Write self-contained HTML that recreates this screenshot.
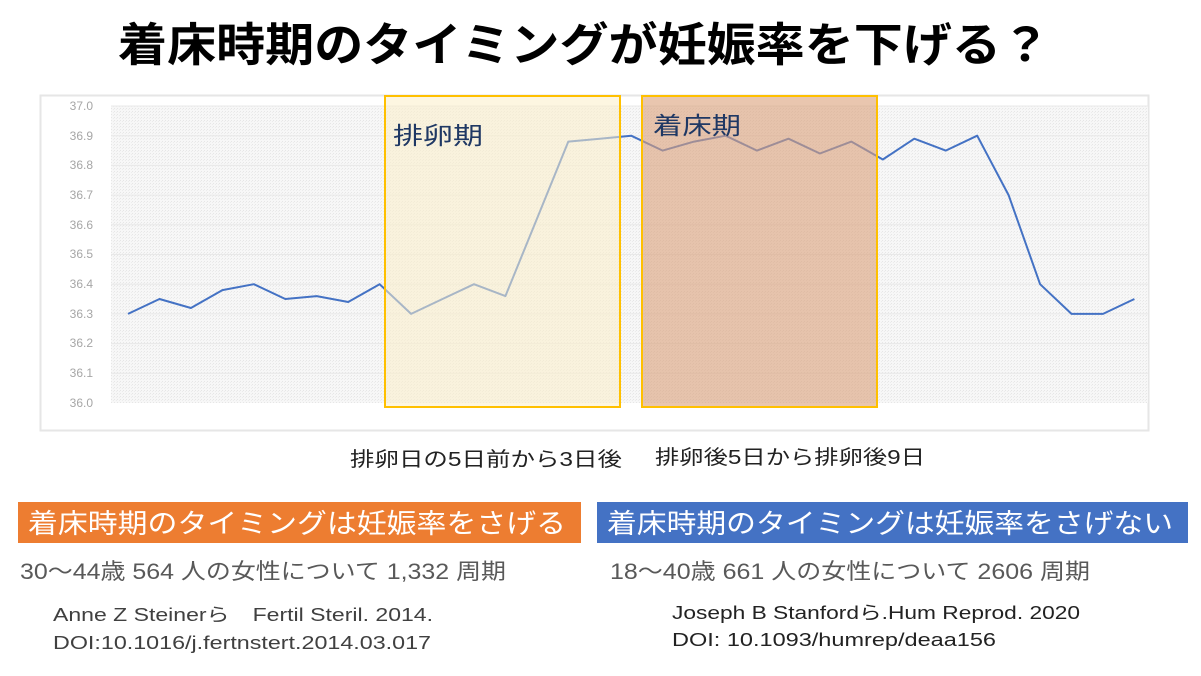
<!DOCTYPE html>
<html><head><meta charset="utf-8"><style>
html,body{margin:0;padding:0;background:#fff;width:1201px;height:676px;overflow:hidden;}
svg{display:block}
text{font-family:"Liberation Sans","Noto Sans CJK JP",sans-serif;}
</style></head><body>
<svg width="1201" height="676" viewBox="0 0 1201 676" xmlns="http://www.w3.org/2000/svg">
<defs>
<pattern id="dots" width="3" height="3" patternUnits="userSpaceOnUse">
<rect width="3" height="3" fill="#f7f7f7"/><rect width="1" height="1" fill="#e6e6e6"/><rect x="2" y="1" width="1" height="1" fill="#ececec"/>
</pattern>
</defs>
<text x="118" y="61" font-size="46" font-weight="bold" fill="#000" textLength="932" lengthAdjust="spacingAndGlyphs">着床時期のタイミングが妊娠率を下げる？</text>
<rect x="40.5" y="95.5" width="1108" height="335" fill="#fff" stroke="#e6e6e6" stroke-width="2"/>
<rect x="111" y="106" width="1037" height="297" fill="url(#dots)"/>
<g stroke="#e8e8e8" stroke-width="1">
<line x1="111" x2="1148" y1="106" y2="106"/><line x1="111" x2="1148" y1="135.7" y2="135.7"/><line x1="111" x2="1148" y1="165.4" y2="165.4"/><line x1="111" x2="1148" y1="195.1" y2="195.1"/><line x1="111" x2="1148" y1="224.8" y2="224.8"/><line x1="111" x2="1148" y1="254.5" y2="254.5"/><line x1="111" x2="1148" y1="284.2" y2="284.2"/><line x1="111" x2="1148" y1="313.9" y2="313.9"/><line x1="111" x2="1148" y1="343.6" y2="343.6"/><line x1="111" x2="1148" y1="373.3" y2="373.3"/>
</g>
<g font-size="12" fill="#a6a6a6" text-anchor="end">
<text x="93" y="110">37.0</text><text x="93" y="140">36.9</text><text x="93" y="169">36.8</text><text x="93" y="199">36.7</text><text x="93" y="229">36.6</text><text x="93" y="258">36.5</text><text x="93" y="288">36.4</text><text x="93" y="318">36.3</text><text x="93" y="347">36.2</text><text x="93" y="377">36.1</text><text x="93" y="407">36.0</text>
</g>
<polyline fill="none" stroke="#4472c4" stroke-width="2" stroke-linejoin="round" points="128,313.9 159.5,299.0 190.9,308.0 222.4,290.1 253.8,284.2 285.3,299.0 316.7,296.1 348.2,302.0 379.6,284.2 411.1,313.9 442.5,299.0 474,284.2 505.4,296.1 536.9,218.9 568.3,141.6 599.8,138.7 631.2,135.7 662.7,150.6 694.1,141.6 725.6,135.7 757,150.6 788.5,138.7 819.9,153.5 851.4,141.6 882.8,159.5 914.3,138.7 945.7,150.6 977.2,135.7 1008.6,195.1 1040.1,284.2 1071.5,313.9 1103,313.9 1134.4,299.0"/>
<rect x="385" y="96" width="235" height="311" fill="#fbefc8" fill-opacity="0.55" stroke="#ffc000" stroke-width="2"/>
<rect x="642" y="96" width="235" height="311" fill="#dba07a" fill-opacity="0.6" stroke="#ffc000" stroke-width="2"/>
<text x="393" y="144" font-size="24" fill="#1f3864" textLength="90" lengthAdjust="spacingAndGlyphs">排卵期</text>
<text x="653" y="134" font-size="24" fill="#1f3864" textLength="88" lengthAdjust="spacingAndGlyphs">着床期</text>
<text x="350" y="466" font-size="20" fill="#222" textLength="272" lengthAdjust="spacingAndGlyphs">排卵日の5日前から3日後</text>
<text x="655" y="464" font-size="20" fill="#222" textLength="270" lengthAdjust="spacingAndGlyphs">排卵後5日から排卵後9日</text>
<rect x="18" y="502" width="563" height="41" fill="#ed7d31"/>
<text x="28" y="533" font-size="27" fill="#fff" textLength="538" lengthAdjust="spacingAndGlyphs">着床時期のタイミングは妊娠率をさげる</text>
<rect x="597" y="502" width="591" height="41" fill="#4472c4"/>
<text x="607" y="533" font-size="27" fill="#fff" textLength="566" lengthAdjust="spacingAndGlyphs">着床時期のタイミングは妊娠率をさげない</text>
<text x="20" y="579" font-size="22" fill="#595959" textLength="486" lengthAdjust="spacingAndGlyphs">30～44歳 564 人の女性について 1,332 周期</text>
<text x="610" y="579" font-size="22" fill="#595959" textLength="480" lengthAdjust="spacingAndGlyphs">18～40歳 661 人の女性について 2606 周期</text>
<text x="53" y="621" font-size="18" fill="#404040" textLength="380" lengthAdjust="spacingAndGlyphs">Anne Z Steinerら　Fertil Steril. 2014.</text>
<text x="53" y="649" font-size="18" fill="#404040" textLength="378" lengthAdjust="spacingAndGlyphs">DOI:10.1016/j.fertnstert.2014.03.017</text>
<text x="672" y="619" font-size="18" fill="#222" textLength="408" lengthAdjust="spacingAndGlyphs">Joseph B Stanfordら.Hum Reprod. 2020</text>
<text x="672" y="646" font-size="18" fill="#222" textLength="324" lengthAdjust="spacingAndGlyphs">DOI: 10.1093/humrep/deaa156</text>
</svg>
</body></html>
